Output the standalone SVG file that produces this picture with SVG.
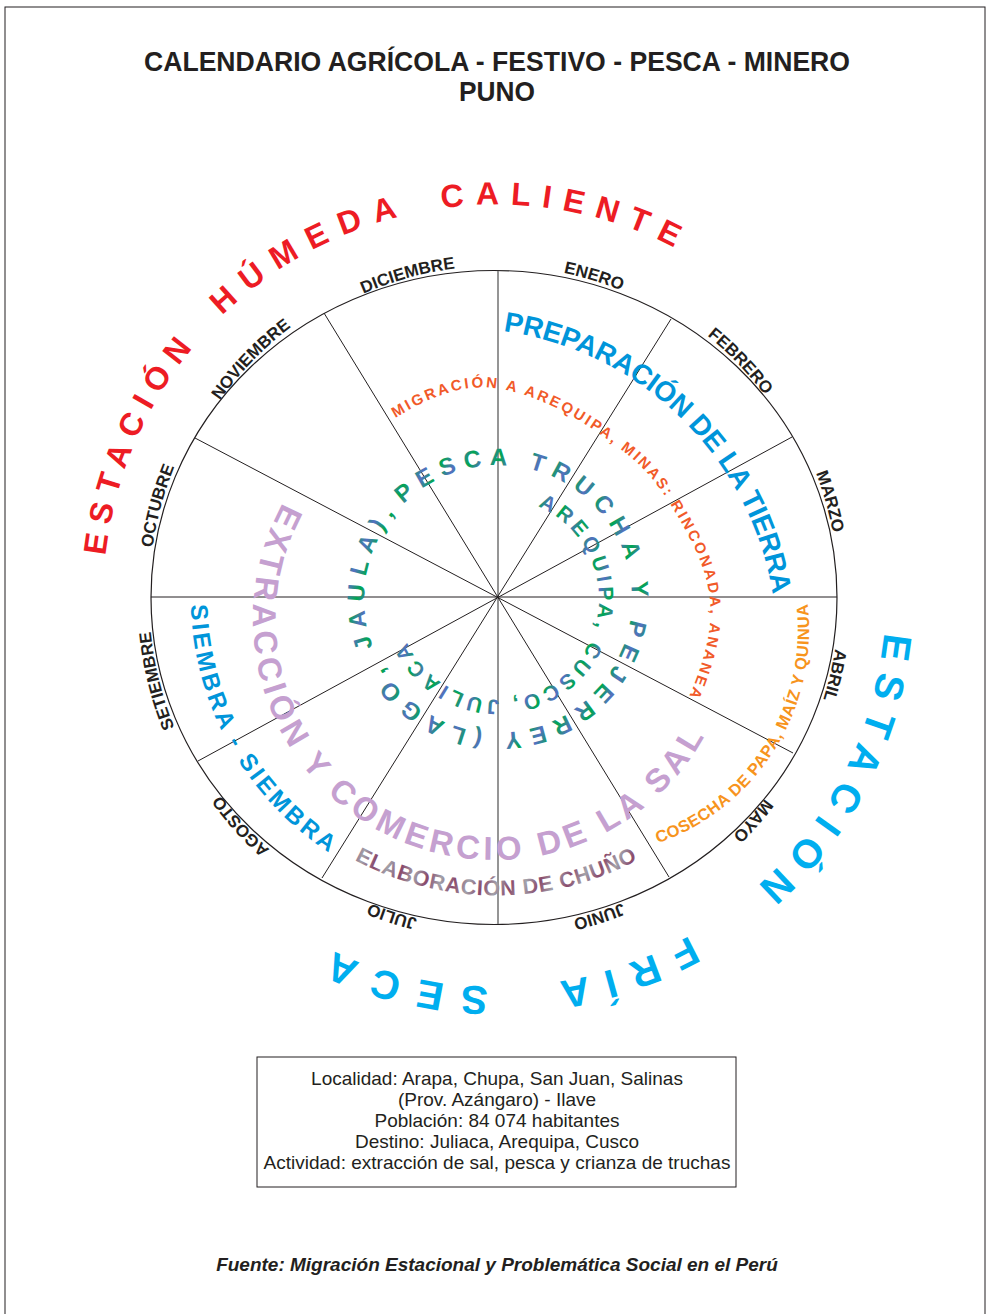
<svg xmlns="http://www.w3.org/2000/svg" width="988" height="1314" viewBox="0 0 988 1314">
<defs>
<style>
text{font-family:"Liberation Sans",Arial,sans-serif;fill:#231f20}
.b{font-weight:bold}
.mid{text-anchor:middle}
.mon{font-size:17px;font-weight:bold;text-anchor:middle}
.red{fill:#ed1c24;font-size:32px;font-weight:bold;text-anchor:middle}
.cyan{fill:#00aeef;font-size:40px;font-weight:bold;text-anchor:middle}
.blue{fill:#0095da;font-weight:bold}
.leg{font-size:19px;text-anchor:middle}
.spoke{stroke:#231f20;stroke-width:1}
</style>
<linearGradient id="gBG" gradientUnits="userSpaceOnUse" x1="0" y1="0" x2="12" y2="5" spreadMethod="reflect"><stop offset="0" stop-color="#5570c2"/><stop offset="1" stop-color="#00a651"/></linearGradient>
<linearGradient id="gCh" gradientUnits="userSpaceOnUse" x1="0" y1="0" x2="13" y2="4" spreadMethod="reflect"><stop offset="0" stop-color="#a2a2aa"/><stop offset="1" stop-color="#8a4a6c"/></linearGradient>
<path id="pRed" d="M496,204.5 A392.5,392.5 0 1 1 496,989.5 A392.5,392.5 0 1 1 496,204.5 A392.5,392.5 0 1 1 496,989.5 A392.5,392.5 0 1 1 496,204.5"/>
<path id="pCy" d="M496,207.3 A389.7,389.7 0 1 1 496,986.7 A389.7,389.7 0 1 1 496,207.3 A389.7,389.7 0 1 1 496,986.7 A389.7,389.7 0 1 1 496,207.3"/>
<path id="m331" d="M496,266 A331,331 0 1 1 496,928 A331,331 0 1 1 496,266 A331,331 0 1 1 496,928 A331,331 0 1 1 496,266"/>
<path id="m336" d="M496,261 A336,336 0 1 1 496,933 A336,336 0 1 1 496,261 A336,336 0 1 1 496,933 A336,336 0 1 1 496,261"/>
<path id="m339" d="M496,258 A339,339 0 1 1 496,936 A339,339 0 1 1 496,258 A339,339 0 1 1 496,936 A339,339 0 1 1 496,258"/>
<path id="m343" d="M496,254 A343,343 0 1 1 496,940 A343,343 0 1 1 496,254 A343,343 0 1 1 496,940 A343,343 0 1 1 496,254"/>
<path id="m347" d="M496,250 A347,347 0 1 1 496,944 A347,347 0 1 1 496,250 A347,347 0 1 1 496,944 A347,347 0 1 1 496,250"/>
<path id="pPrep" d="M459,328 A318,318 0 1 1 459,964 A318,318 0 1 1 459,328 A318,318 0 1 1 459,964 A318,318 0 1 1 459,328"/>
<path id="pMig" d="M392,420 C422,401.3 458.1,383.8 493,388 C542.8,394 588.4,424 628,455 C645.9,469 660.2,487.6 672,507 C689.3,535.5 706.8,566.9 710,600 C712.9,630.5 703.3,661.5 692,690 C687.3,701.8 678.7,711.2 672,722 L660,740"/>
<path id="pR1" d="M498,465.2 A133.8,133.8 0 1 1 498,732.8 A133.8,133.8 0 1 1 498,465.2 A133.8,133.8 0 1 1 498,732.8 A133.8,133.8 0 1 1 498,465.2"/>
<path id="pR2" d="M498,498.2 A100.8,100.8 0 1 1 498,699.8 A100.8,100.8 0 1 1 498,498.2 A100.8,100.8 0 1 1 498,699.8 A100.8,100.8 0 1 1 498,498.2"/>
<path id="pExt" d="M494,378 A241,241 0 1 0 494,860 A241,241 0 1 0 494,378 A241,241 0 1 0 494,860 A241,241 0 1 0 494,378"/>
<path id="pSiem" d="M496,291.7 A305.3,305.3 0 1 0 496,902.3 A305.3,305.3 0 1 0 496,291.7 A305.3,305.3 0 1 0 496,902.3 A305.3,305.3 0 1 0 496,291.7"/>
<path id="pCos" d="M583,404 A226,226 0 1 0 583,856 A226,226 0 1 0 583,404 A226,226 0 1 0 583,856 A226,226 0 1 0 583,404"/>
<path id="pChu" d="M496,298.5 A298.5,298.5 0 1 0 496,895.5 A298.5,298.5 0 1 0 496,298.5 A298.5,298.5 0 1 0 496,895.5 A298.5,298.5 0 1 0 496,298.5"/>
</defs>

<rect x="5" y="7" width="980" height="1320" fill="#fff" stroke="#231f20" stroke-width="1"/>

<g id="title">
<text class="b mid" x="497" y="71" font-size="28" textLength="706" lengthAdjust="spacingAndGlyphs">CALENDARIO AGRÍCOLA - FESTIVO - PESCA - MINERO</text>
<text class="b mid" x="497" y="101" font-size="28" textLength="76" lengthAdjust="spacingAndGlyphs">PUNO</text>
</g>

<g id="wheel">
<ellipse cx="494" cy="597.5" rx="343" ry="327" fill="none" stroke="#231f20" stroke-width="1.2"/>
</g>

<g id="connectors">
<line x1="498" y1="271" x2="498" y2="924" stroke="#8a8a8a" stroke-width="1.8"/>
<line class="spoke" x1="151" y1="597" x2="837" y2="597"/>
<line class="spoke" x1="324" y1="313" x2="669" y2="877"/>
<line class="spoke" x1="671" y1="319" x2="322" y2="878"/>
<line class="spoke" x1="792" y1="437" x2="198" y2="761"/>
<line class="spoke" x1="195" y1="438" x2="793" y2="753"/>
</g>

<g id="months">
<text class="mon"><textPath href="#m331" startOffset="98.2">ENERO</textPath></text>
<text class="mon"><textPath href="#m336" startOffset="269.8">FEBRERO</textPath></text>
<text class="mon"><textPath href="#m343" startOffset="443">MARZO</textPath></text>
<text class="mon"><textPath href="#m343" startOffset="616.6">ABRIL</textPath></text>
<text class="mon"><textPath href="#m336" startOffset="768.2">MAYO</textPath></text>
<text class="mon"><textPath href="#m331" startOffset="935.9">JUNIO</textPath></text>
<text class="mon"><textPath href="#m331" startOffset="1143.8">JULIO</textPath></text>
<text class="mon"><textPath href="#m339" startOffset="1349">AGOSTO</textPath></text>
<text class="mon"><textPath href="#m347" startOffset="1550.4">SETIEMBRE</textPath></text>
<text class="mon"><textPath href="#m347" startOffset="1726">OCTUBRE</textPath></text>
<text class="mon"><textPath href="#m339" startOffset="1857.8">NOVIEMBRE</textPath></text>
<text class="mon"><textPath href="#m331" startOffset="1990.2">DICIEMBRE</textPath></text>
</g>

<g id="estacion-humeda">
<text class="red" letter-spacing="9.3"><textPath href="#pRed" startOffset="2009">ESTACIÓN</textPath></text>
<text class="red" letter-spacing="12.7"><textPath href="#pRed" startOffset="2270.5">HÚMEDA</textPath></text>
<text class="red" letter-spacing="11.4"><textPath href="#pRed" startOffset="2536.2">CALIENTE</textPath></text>
</g>

<g id="estacion-fria">
<text class="cyan" letter-spacing="12.3"><textPath href="#pCy" startOffset="798.5">ESTACIÓN</textPath></text>
<text class="cyan" letter-spacing="15.4"><textPath href="#pCy" startOffset="1098.7">FRÍA</textPath></text>
<text class="cyan" letter-spacing="16.2"><textPath href="#pCy" startOffset="1319.4">SECA</textPath></text>
</g>

<g id="preparacion">
<text class="blue mid" font-size="28" letter-spacing="-0.2"><textPath href="#pPrep" startOffset="246">PREPARACIÓN DE LA TIERRA</textPath></text>
</g>

<g id="migracion">
<text class="b" font-size="15" letter-spacing="2.5" style="fill:#f15a29"><textPath href="#pMig" startOffset="4">MIGRACIÓN A AREQUIPA, MINAS: RINCONADA, ANANEA</textPath></text>
</g>

<g id="pesca">
<text class="b" font-size="24" letter-spacing="7.85" style="fill:url(#gBG)"><textPath href="#pR1" startOffset="735.4">PESCA TRUCHA Y PEJERREY (LAGO, JAULA), </textPath></text>
<text class="b mid" font-size="21" letter-spacing="3.87" style="fill:url(#gBG)"><textPath href="#pR2" startOffset="869.7">AREQUIPA, CUSCO, JULIACA</textPath></text>
</g>

<g id="extraccion">
<text class="b mid" font-size="33" letter-spacing="4.47" style="fill:#c5a0d0"><textPath href="#pExt" startOffset="2150.5">EXTRACCIÓN Y COMERCIO DE LA SAL</textPath></text>
</g>

<g id="siembra">
<text class="blue mid" font-size="24" letter-spacing="3.3"><textPath href="#pSiem" startOffset="2553.8">SIEMBRA - SIEMBRA</textPath></text>
</g>

<g id="cosecha">
<text class="b mid" font-size="16.5" letter-spacing="0.45" style="fill:#f7941d"><textPath href="#pCos" startOffset="2358.6">COSECHA DE PAPA, MAÍZ Y QUINUA</textPath></text>
</g>

<g id="chuno">
<text class="b mid" font-size="21.5" letter-spacing="0.74" style="fill:url(#gCh)"><textPath href="#pChu" startOffset="2812.6">ELABORACIÓN DE CHUÑO</textPath></text>
</g>

<g id="legend">
<rect x="257" y="1057" width="479" height="130" fill="none" stroke="#231f20" stroke-width="1"/>
<text class="leg" x="497" y="1085">Localidad: Arapa, Chupa, San Juan, Salinas</text>
<text class="leg" x="497" y="1106">(Prov. Azángaro) - Ilave</text>
<text class="leg" x="497" y="1127">Población: 84 074 habitantes</text>
<text class="leg" x="497" y="1148">Destino: Juliaca, Arequipa, Cusco</text>
<text class="leg" x="497" y="1169">Actividad: extracción de sal, pesca y crianza de truchas</text>
</g>

<g id="footer">
<text class="b mid" x="497" y="1271" font-size="19" font-style="italic">Fuente: Migración Estacional y Problemática Social en el Perú</text>
</g>
</svg>
